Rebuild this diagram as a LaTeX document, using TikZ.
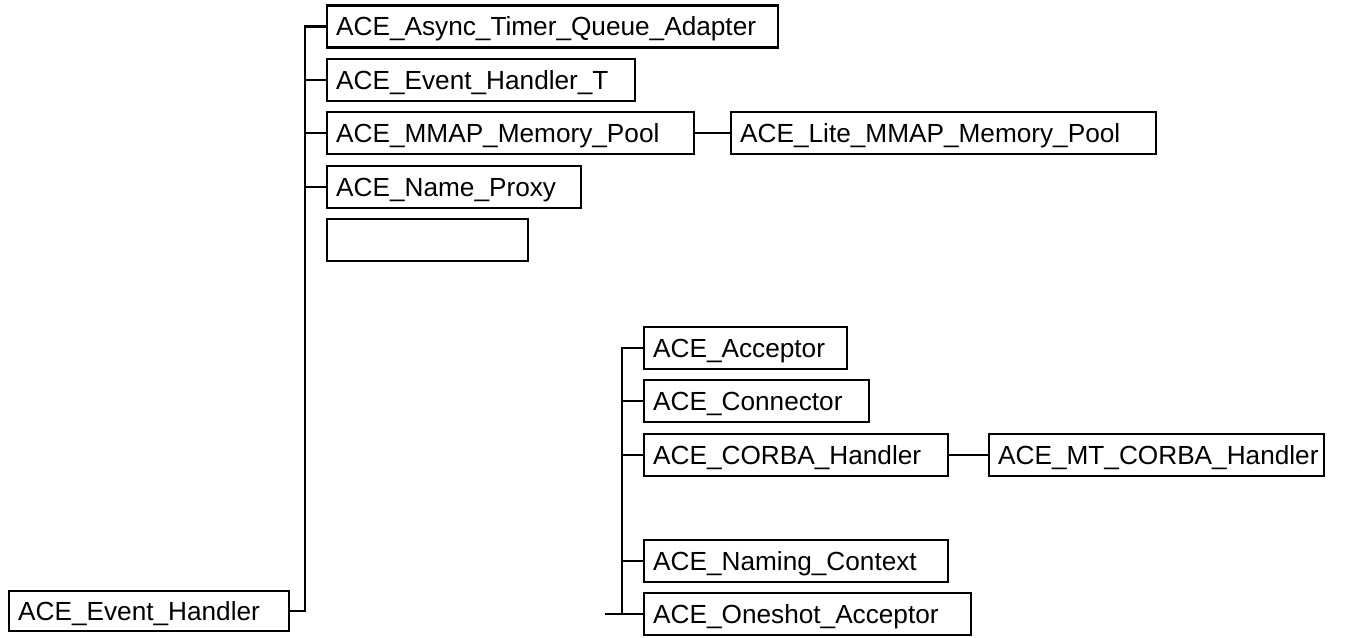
\documentclass[tikz,border=0pt]{standalone}
\usepackage{fontspec}
\setmainfont{Liberation Sans}
\usetikzlibrary{calc}

\begin{document}
\begin{tikzpicture}[x=0.5pt,y=-0.5pt,
		cls/.style={draw,line width=1.2pt,anchor=west,minimum height=21pt,
			inner xsep=4.5pt,inner ysep=0pt,align=left,text width=#1,
			text height=9.4pt,text depth=0pt,
			font=\fontsize{13.1}{15}\selectfont},
		link/.style={line width=1.3pt}]

  \useasboundingbox (0,0) rectangle (1347,637);

  % first hierarchy
  \node[cls=131pt,minimum height=20pt] (evh) at (8,611) {ACE\_Event\_Handler};
  \node[cls=216.5pt] (async) at (326,26.5) {ACE\_Async\_Timer\_Queue\_Adapter};
  \node[cls=145pt] (evht) at (326,80) {ACE\_Event\_Handler\_T};
  \node[cls=174.5pt] (mmap) at (326,133) {ACE\_MMAP\_Memory\_Pool};
  \node[cls=203.5pt] (litemmap) at (730,133) {ACE\_Lite\_MMAP\_Memory\_Pool};
  \node[cls=118pt] (nproxy) at (326,187) {ACE\_Name\_Proxy};
  \node[cls=91.5pt] (blank) at (326,240) {};

  \coordinate (trunkA) at (305,0);
  \draw[link] (evh.east) -| (trunkA |- async.west) -- (async.west);
  \draw[link] (trunkA |- evht.west) -- (evht.west);
  \draw[link] (trunkA |- mmap.west) -- (mmap.west);
  \draw[link] (trunkA |- nproxy.west) -- (nproxy.west);
  \draw[link] (mmap.east) -- (litemmap.west);

  % second hierarchy
  \node[cls=92.5pt] (acc) at (643,348) {ACE\_Acceptor};
  \node[cls=103.5pt] (conn) at (643,401) {ACE\_Connector};
  \node[cls=143pt] (corba) at (643,455) {ACE\_CORBA\_Handler};
  \node[cls=158.5pt] (mtcorba) at (988,455) {ACE\_MT\_CORBA\_Handler};
  \node[cls=143pt] (naming) at (643,561) {ACE\_Naming\_Context};
  \node[cls=154.5pt] (oneshot) at (643,614) {ACE\_Oneshot\_Acceptor};

  \coordinate (trunkB) at (622,0);
  \coordinate (stub) at (605,614);
  \draw[link] (stub) -- (oneshot.west);
  \draw[link] (trunkB |- oneshot.west) |- (acc.west);
  \draw[link] (trunkB |- conn.west) -- (conn.west);
  \draw[link] (trunkB |- corba.west) -- (corba.west);
  \draw[link] (trunkB |- naming.west) -- (naming.west);
  \draw[link] (corba.east) -- (mtcorba.west);

\end{tikzpicture}
\end{document}
